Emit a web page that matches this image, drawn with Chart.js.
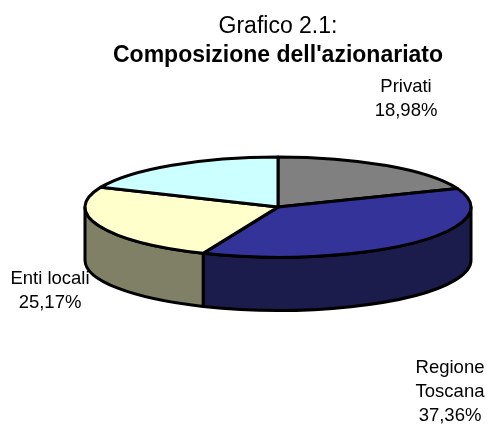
<!DOCTYPE html>
<html lang="it">
<head>
  <meta charset="UTF-8">
  <title>Grafico 2.1</title>
  <script src="https://cdn.jsdelivr.net/npm/chart.js"></script>
  <style>
    html, body { margin: 0; padding: 0; background: #fff; }
    #wrap { width: 489px; height: 425px; }
  </style>
</head>
<body>
  <div id="wrap"><canvas id="pieChart" width="489" height="425"></canvas></div>

<script>
  // data (4th slice has no label in the original)
  const categories = [['Privati'], ['Regione', 'Toscana'], ['Enti locali'], ['']];
  const shares = [18.98, 37.36, 25.17, 18.49];
  const topColors = ['#808080', '#333399', '#FFFFCC', '#CCFFFF'];
  const sideColors = ['#404040', '#1c1c4c', '#808066', '#668080'];

  // label block centre, relative to the pie centre
  const labelOffsets = [[128, -108], [172, 185], [-228, 84], [0, 0]];

  const TILT = 0.26;    // ry / rx
  const DEPTH = 0.275;  // wall height / rx
  const FONT = '"Liberation Sans", Arial, sans-serif';

  const pie3d = {
    id: 'pie3d',
    beforeDatasetsDraw(chart) {
      const ctx = chart.ctx;
      const arcs = chart.getDatasetMeta(0).data;
      if (!arcs.length) return false;
      const cx = arcs[0].x, cy = arcs[0].y;
      const rx = arcs[0].outerRadius;
      const ry = rx * TILT;
      const depth = rx * DEPTH;

      ctx.save();
      ctx.lineWidth = 3;
      ctx.lineJoin = 'round';
      ctx.strokeStyle = '#000';

      // side walls, only the front half (0..PI) is visible
      arcs.forEach((arc, i) => {
        const a0 = Math.max(arc.startAngle, 0);
        const a1 = Math.min(arc.endAngle, Math.PI);
        if (a1 <= a0) return;
        ctx.beginPath();
        ctx.ellipse(cx, cy, rx, ry, 0, a0, a1);
        ctx.lineTo(cx + rx * Math.cos(a1), cy + depth + ry * Math.sin(a1));
        ctx.ellipse(cx, cy + depth, rx, ry, 0, a1, a0, true);
        ctx.closePath();
        ctx.fillStyle = sideColors[i];
        ctx.fill();
        ctx.stroke();
      });

      // top faces
      arcs.forEach((arc, i) => {
        ctx.beginPath();
        ctx.moveTo(cx, cy);
        ctx.ellipse(cx, cy, rx, ry, 0, arc.startAngle, arc.endAngle);
        ctx.closePath();
        ctx.fillStyle = arc.options.backgroundColor;
        ctx.fill();
        ctx.stroke();
      });

      // data labels
      ctx.fillStyle = '#000';
      ctx.font = '18.5px ' + FONT;
      ctx.textAlign = 'center';
      ctx.textBaseline = 'middle';
      const lh = 24;
      arcs.forEach((arc, i) => {
        const lines = categories[i].filter(s => s !== '');
        if (!lines.length) return;
        lines.push(shares[i].toFixed(2).replace('.', ',') + '%');
        const x = cx + labelOffsets[i][0];
        const y0 = cy + labelOffsets[i][1] - (lines.length - 1) * lh / 2;
        lines.forEach((t, k) => ctx.fillText(t, x, y0 + k * lh));
      });

      ctx.restore();
      return false;
    }
  };

  new Chart(document.getElementById('pieChart'), {
    type: 'pie',
    data: {
      labels: categories,
      datasets: [{
        data: shares,
        backgroundColor: topColors,
        borderWidth: 0
      }]
    },
    options: {
      responsive: false,
      animation: false,
      radius: 193,
      layout: { padding: { left: 76, right: 9, top: 0, bottom: 86 } },
      plugins: {
        legend: { display: false },
        tooltip: { enabled: false },
        title: {
          display: true,
          text: 'Grafico 2.1:',
          color: '#000',
          font: { family: FONT, size: 23, weight: 'normal', lineHeight: 1.2 },
          padding: { top: 13, bottom: 0 }
        },
        subtitle: {
          display: true,
          text: "Composizione dell'azionariato",
          color: '#000',
          font: { family: FONT, size: 23, weight: 'bold', lineHeight: 1.2 },
          padding: { top: 1, bottom: 6 }
        }
      }
    },
    plugins: [pie3d]
  });
</script>
</body>
</html>
